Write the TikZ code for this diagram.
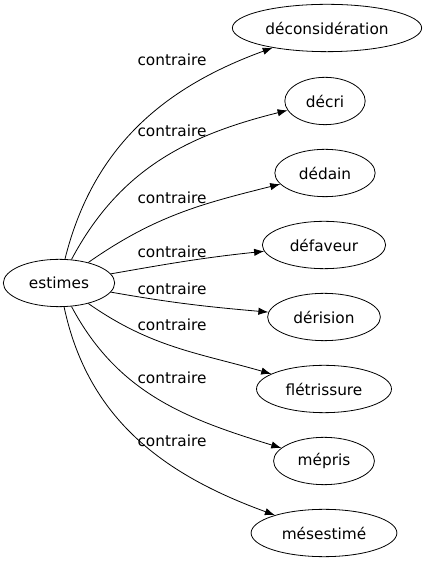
\documentclass[tikz,border=0pt]{standalone}
\usepackage{fontspec}
\setmainfont{DejaVu Sans}
\usetikzlibrary{shapes.geometric,arrows.meta}

\begin{document}
\begin{tikzpicture}[x=0.75pt, y=0.75pt, line width=0.6pt,
	word/.style={ellipse, draw=black, inner xsep=7pt, minimum height=35.5pt, font=\fontsize{11.5}{13}\selectfont},
	rel/.style={-{Latex[length=7.5pt, width=5.5pt]}},
	lbl/.style={font=\fontsize{11.5}{13}\selectfont, inner sep=0pt}]
	\useasboundingbox (0,0) rectangle (428,563);

	% Nodes
	\node[word] (estimes) at (59,280) {estimes};
	\node[word, inner xsep=4pt] (deconsideration) at (327,535) {déconsidération};
	\node[word] (decri) at (325,462) {décri};
	\node[word] (dedain) at (325,390) {dédain};
	\node[word] (defaveur) at (324,318) {défaveur};
	\node[word] (derision) at (324,246) {dérision};
	\node[word] (fletrissure) at (324,174) {flétrissure};
	\node[word] (mepris) at (324,102) {mépris};
	\node[word] (mesestime) at (324,30) {mésestimé};

	% Labels
	\node[lbl] (l1) at (172,503) {contraire};
	\node[lbl] (l2) at (172,432) {contraire};
	\node[lbl] (l3) at (172,365) {contraire};
	\node[lbl] (l4) at (172,311) {contraire};
	\node[lbl] (l5) at (172,274) {contraire};
	\node[lbl] (l6) at (172,238) {contraire};
	\node[lbl] (l7) at (172,185) {contraire};
	\node[lbl] (l8) at (172,122) {contraire};

	% Relations
	\draw[rel] (estimes) to[out=76, in=200] (deconsideration);
	\draw[rel] (estimes) to[out=62, in=194] (decri);
	\draw[rel] (estimes) to[out=35, in=194] (dedain);
	\draw[rel] (estimes) to[out=10, in=186] (defaveur);
	\draw[rel] (estimes) to[out=-10, in=175] (derision);
	\draw[rel] (estimes) to[out=-35, in=164] (fletrissure);
	\draw[rel] (estimes) to[out=-62, in=163] (mepris);
	\draw[rel] (estimes) to[out=-78, in=160] (mesestime);
\end{tikzpicture}
\end{document}
